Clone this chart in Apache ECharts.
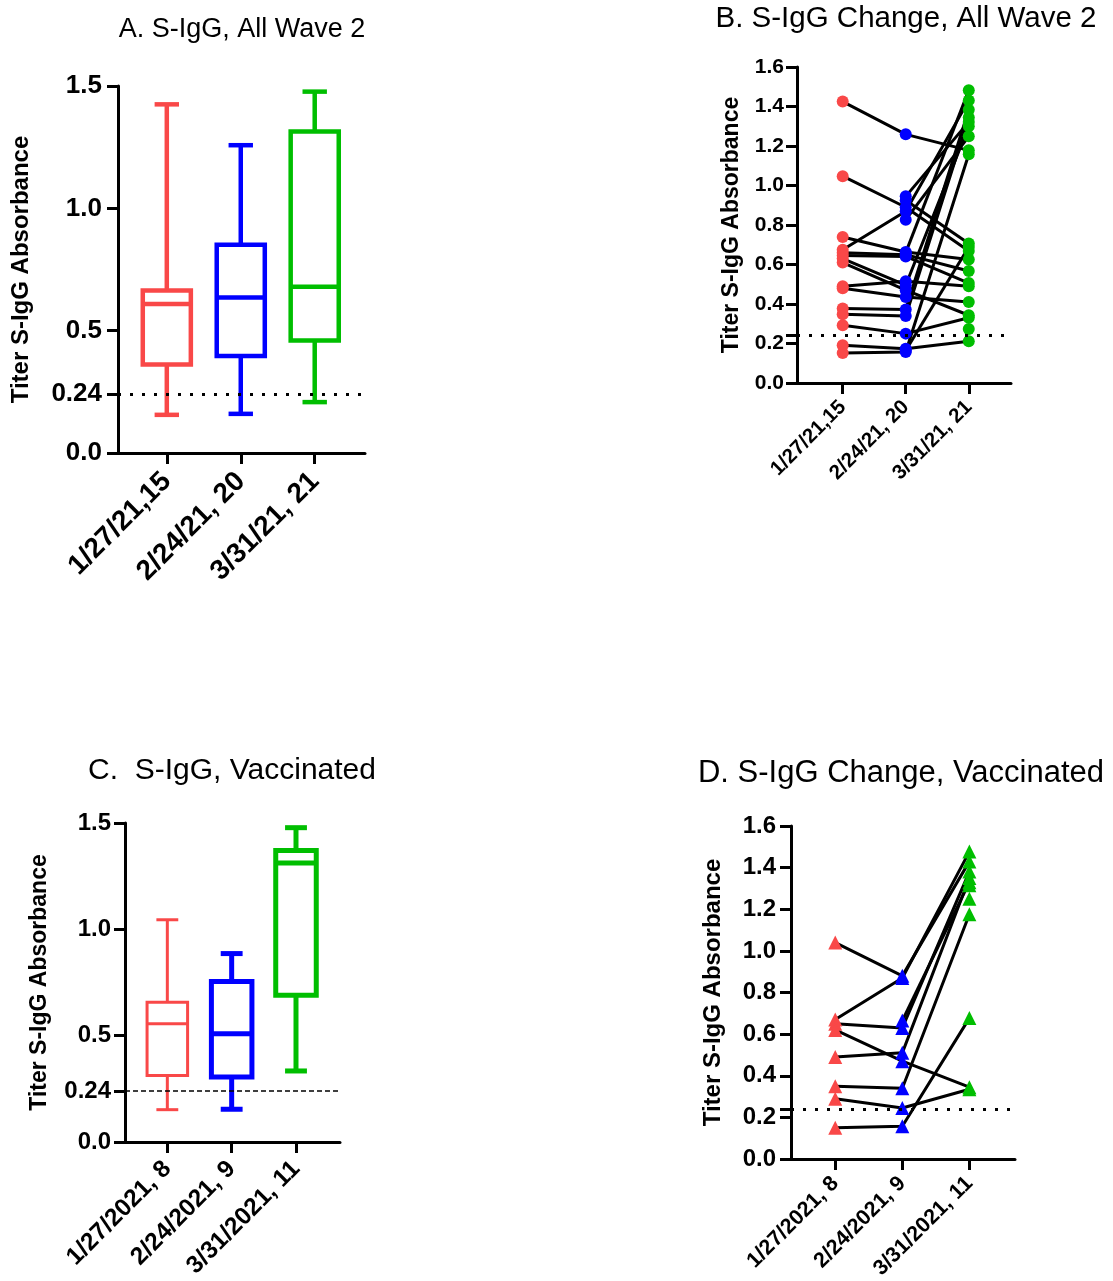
<!DOCTYPE html>
<html><head><meta charset="utf-8">
<script src="https://cdn.jsdelivr.net/npm/echarts@6/dist/echarts.min.js"></script>
<style>html,body{margin:0;padding:0;background:#fff}#c{width:1113px;height:1281px}</style>
</head><body><div id="c"></div>
<script>
// ---------- data ----------
const catsAll = ['1/27/21,15', '2/24/21, 20', '3/31/21, 21'];
const catsVac = ['1/27/2021, 8', '2/24/2021, 9', '3/31/2021, 11'];
const threshold = 0.24;
const yTicksBox = [0, 0.24, 0.5, 1.0, 1.5];
const yTicksChange = [0, 0.2, 0.4, 0.6, 0.8, 1.0, 1.2, 1.4, 1.6];
const yTickMarksChange = [0, 0.2, 0.24, 0.4, 0.6, 0.8, 1.0, 1.2, 1.4, 1.6];
// box stats per time point: [min, Q1, median, Q3, max]
const boxAllJan = [0.156, 0.362, 0.609, 0.664, 1.425];
const boxAllFeb = [0.160, 0.396, 0.636, 0.851, 1.258];
const boxAllMar = [0.208, 0.460, 0.680, 1.314, 1.477];
const boxVacJan = [0.152, 0.313, 0.556, 0.657, 1.045];
const boxVacFeb = [0.154, 0.306, 0.509, 0.755, 0.886];
const boxVacMar = [0.334, 0.690, 1.312, 1.371, 1.478];
// paired subjects, all wave 2 (null = not sampled)
const allJan = [1.425, 1.047, 0.675, 0.739, 0.66, 0.645, 0.61, 0.63, 0.49, 0.48, 0.377, 0.348, 0.292, 0.191, 0.152, null, null, null, null, null, null];
const allFeb = [1.259, 0.89, 0.87, 0.663, 0.65, 0.641, 0.47, 0.495, 0.515, 0.435, 0.372, 0.339, 0.25, 0.174, 0.157, 0.945, 0.925, 0.827, 0.66, 0.165, null];
const allMar = [1.178, 0.668, 1.431, 0.625, 0.567, 0.506, 0.343, 1.30, 0.49, 0.41, 1.384, 1.344, 0.33, 0.211, 1.158, 1.322, 0.706, 1.249, 1.482, 0.689, 0.273];
// paired subjects, vaccinated
const vacJan = [1.04, 0.67, 0.65, 0.62, 0.49, 0.35, 0.29, 0.15, null, null, null];
const vacFeb = [0.88, 0.87, 0.63, 0.47, 0.51, 0.34, 0.245, 0.157, 0.665, null, null];
const vacMar = [1.43, 1.477, 1.381, 0.345, 1.35, 1.176, 0.335, 0.677, 1.33, 1.315, 1.25];

// ---------- style ----------
const colors = ['#F94848', '#0000FF', '#00BE00'];
const FF = '"Liberation Sans", Arial, sans-serif';

const chart = echarts.init(document.getElementById('c'), null, {renderer: 'canvas'});

function xAxisCfg(gi, min, max, cats, fs, margin) {
  return {
    type: 'value', gridIndex: gi, min: min, max: max,
    axisLine: {show: true, onZero: false, lineStyle: {color: '#000', width: 3}},
    axisTick: {show: true, customValues: [0, 1, 2], length: 11, lineStyle: {color: '#000', width: 3}},
    axisLabel: {show: true, customValues: [0, 1, 2], formatter: v => cats[Math.round(v)], rotate: 45,
      fontSize: fs, fontWeight: 'bold', color: '#000', fontFamily: FF, margin: margin},
    splitLine: {show: false}
  };
}
function yAxisCfg(gi, max, ticks, labels, fs, nameFs, nameGap, labelMargin) {
  return {
    type: 'value', gridIndex: gi, min: 0, max: max,
    axisLine: {show: true, onZero: false, lineStyle: {color: '#000', width: 3}},
    axisTick: {show: true, customValues: ticks, length: 11, lineStyle: {color: '#000', width: 3}},
    axisLabel: {show: true, customValues: labels, margin: labelMargin,
      formatter: v => (Math.abs(v - threshold) < 1e-9 ? '0.24' : v.toFixed(1)),
      fontSize: fs, fontWeight: 'bold', color: '#000', fontFamily: FF},
    splitLine: {show: false},
    name: 'Titer S-IgG Absorbance', nameLocation: 'middle', nameGap: nameGap, nameRotate: 90,
    nameTextStyle: {fontSize: nameFs, fontWeight: 'bold', color: '#000', fontFamily: FF}
  };
}
function boxSeries(gi, boxes, widths, boxFrac, capFrac, dash) {
  return {
    type: 'custom', xAxisIndex: gi, yAxisIndex: gi,
    data: boxes.map((b, i) => [i].concat(b)),
    encode: {x: 0, y: [1, 2, 3, 4, 5]},
    renderItem: function (params, api) {
      const i = api.value(0);
      const vals = [1, 2, 3, 4, 5].map(k => api.value(k));
      const band = api.size([1, 0])[0];
      const bw = band * boxFrac, cw = band * capFrac;
      const cx = api.coord([i, 0])[0];
      const y = vals.map(v => api.coord([i, v])[1]);
      const c = colors[i];
      const lw = widths[i];
      const st = {stroke: c, lineWidth: lw, fill: 'none'};
      return {type: 'group', children: [
        {type: 'line', shape: {x1: cx, y1: y[3], x2: cx, y2: y[4]}, style: st},
        {type: 'line', shape: {x1: cx, y1: y[1], x2: cx, y2: y[0]}, style: st},
        {type: 'line', shape: {x1: cx - cw / 2, y1: y[4], x2: cx + cw / 2, y2: y[4]}, style: st},
        {type: 'line', shape: {x1: cx - cw / 2, y1: y[0], x2: cx + cw / 2, y2: y[0]}, style: st},
        {type: 'rect', shape: {x: cx - bw / 2, y: y[3], width: bw, height: y[1] - y[3]}, style: st},
        {type: 'line', shape: {x1: cx - bw / 2, y1: y[2], x2: cx + bw / 2, y2: y[2]}, style: st}
      ]};
    },
    markLine: {silent: true, symbol: 'none', label: {show: false},
      lineStyle: {color: '#000', type: dash.type, width: dash.width},
      data: [{yAxis: threshold}]},
    z: 3
  };
}
function pairedSeries(gi, jan, feb, mar, symbol, size, dash) {
  const out = [];
  for (let s = 0; s < mar.length; s++) {
    const vals = [jan[s], feb[s], mar[s]];
    out.push({
      type: 'line', xAxisIndex: gi, yAxisIndex: gi, symbol: 'none', connectNulls: false,
      lineStyle: {color: '#000', width: 3}, silent: true, z: 2,
      data: vals.map((v, k) => [k, v == null ? '-' : v])
    });
  }
  [jan, feb, mar].forEach((arr, k) => {
    out.push({
      type: 'scatter', xAxisIndex: gi, yAxisIndex: gi, symbol: symbol, symbolSize: size, z: 4,
      itemStyle: {color: colors[k], opacity: 1},
      data: arr.filter(v => v != null).map(v => [k, v])
    });
  });
  out.push({
    type: 'line', xAxisIndex: gi, yAxisIndex: gi, data: [], symbol: 'none',
    markLine: {silent: true, symbol: 'none', label: {show: false},
      lineStyle: {color: '#000', type: dash.type, width: dash.width}, data: [{yAxis: threshold}]}
  });
  return out;
}

const dotted = {type: [3, 9], width: 3};
const dashedThin = {type: [5, 3], width: 1.5};

const option = {
  animation: false,
  backgroundColor: '#fff',
  title: [
    {text: 'A. S-IgG, All Wave 2', left: 242, top: 16, textAlign: 'center', padding: 0,
      textStyle: {fontSize: 27, fontWeight: 'normal', color: '#000', fontFamily: FF}},
    {text: 'B. S-IgG Change, All Wave 2', left: 906, top: 4, textAlign: 'center', padding: 0,
      textStyle: {fontSize: 29.5, fontWeight: 'normal', color: '#000', fontFamily: FF}},
    {text: 'C.  S-IgG, Vaccinated', left: 232, top: 756, textAlign: 'center', padding: 0,
      textStyle: {fontSize: 30, fontWeight: 'normal', color: '#000', fontFamily: FF}},
    {text: 'D. S-IgG Change, Vaccinated', left: 901, top: 758, textAlign: 'center', padding: 0,
      textStyle: {fontSize: 31, fontWeight: 'normal', color: '#000', fontFamily: FF}}
  ],
  grid: [
    {left: 118, top: 86, width: 247, height: 367, containLabel: false, outerBoundsMode: 'none'},
    {left: 797, top: 67, width: 214, height: 316, containLabel: false, outerBoundsMode: 'none'},
    {left: 125, top: 823, width: 215, height: 319, containLabel: false, outerBoundsMode: 'none'},
    {left: 791, top: 826, width: 224, height: 333, containLabel: false, outerBoundsMode: 'none'}
  ],
  xAxis: [
    xAxisCfg(0, -0.66, 2.68, catsAll, 28, 24),
    xAxisCfg(1, -0.725, 2.67, catsAll, 20.5, 21),
    xAxisCfg(2, -0.658, 2.684, catsVac, 24.5, 23),
    xAxisCfg(3, -0.66, 2.68, catsVac, 21.5, 21)
  ],
  yAxis: [
    yAxisCfg(0, 1.5, yTicksBox, yTicksBox, 26, 24, 85, 16),
    yAxisCfg(1, 1.6, yTickMarksChange, yTicksChange, 21, 23, 54, 13),
    yAxisCfg(2, 1.5, yTicksBox, yTicksBox, 24, 23, 74, 14),
    yAxisCfg(3, 1.6, yTickMarksChange, yTicksChange, 24, 24, 66, 15)
  ],
  series: [].concat(
    [boxSeries(0, [boxAllJan, boxAllFeb, boxAllMar], [4.5, 4.5, 4.5], 0.65, 0.33, dotted)],
    pairedSeries(1, allJan, allFeb, allMar, 'circle', 12, dotted),
    [boxSeries(2, [boxVacJan, boxVacFeb, boxVacMar], [3, 5, 5], 0.63, 0.34, dashedThin)],
    pairedSeries(3, vacJan, vacFeb, vacMar, 'triangle', 14, dotted)
  )
};
chart.setOption(option);
</script></body></html>
